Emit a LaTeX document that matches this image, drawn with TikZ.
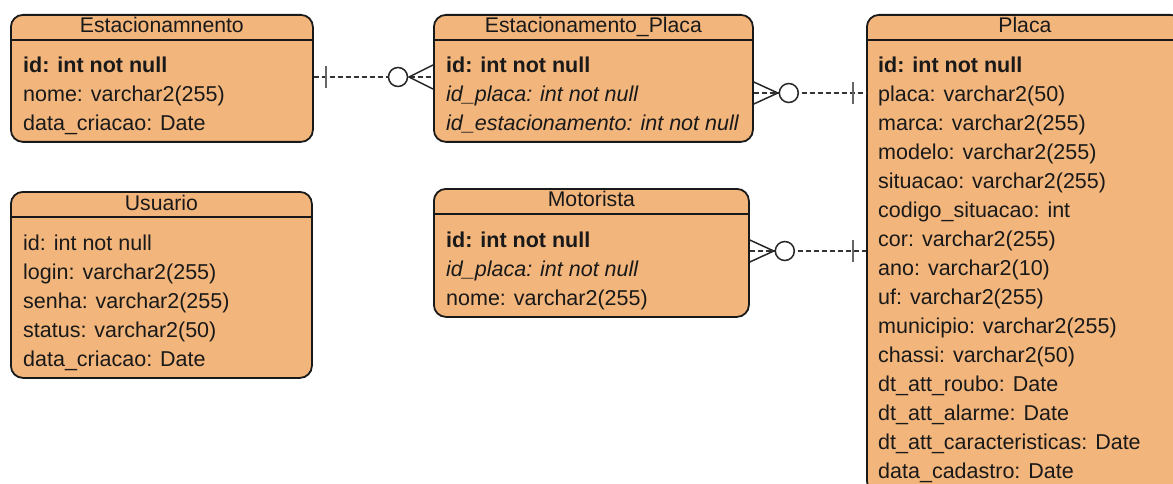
\documentclass[tikz,border=0pt]{standalone}
\usepackage{fontspec}
\setmainfont{Liberation Sans}
\definecolor{tabfill}{RGB}{242,181,124}
\begin{document}
\begin{tikzpicture}[x=1pt,y=-1pt,
  tabela/.style={draw=black!90,line width=1.8pt,fill=tabfill,rounded corners=12pt,inner sep=0pt,anchor=north west},
  titulo/.style={font=\fontsize{21.2}{24}\selectfont,anchor=base,inner sep=0pt,text=black!90},
  campos/.style={font=\fontsize{21.5}{29}\selectfont,align=left,anchor=north west,inner sep=0pt,text=black!90},
  divisa/.style={draw=black!90,line width=1.6pt},
  rel/.style={draw=black!80,line width=1.3pt,dash pattern=on 5pt off 3pt},
  pe/.style={draw=black!85,line width=1.5pt},
  um/.style={draw=black!60,line width=2.2pt},
  zero/.style={draw=black!85,line width=1.5pt,fill=white}]
  \clip (0,0) rectangle (1173,484);
  % tabelas
  \node[tabela,minimum width=302,minimum height=127] (est) at (10,14) {};
  \draw[divisa] (est.west |- 0,40) -- (est.east |- 0,40);
  \node[titulo] (est-t) at (est.north |- 0,33) {Estacionamnento};
  \node[campos] (est-c) at (23,56.6) {\textbf{id: int not null}\\nome: varchar2(255)\\data\_criacao: Date};

  \node[tabela,minimum width=319,minimum height=127] (ep) at (433,14) {};
  \draw[divisa] (ep.west |- 0,40) -- (ep.east |- 0,40);
  \node[titulo] (ep-t) at (ep.north |- 0,33) {Estacionamento\_Placa};
  \node[campos] (ep-c) at (446,56.6) {\textbf{id: int not null}\\\textit{id\_placa: int not null}\\\textit{id\_estacionamento: int not null}};

  \node[tabela,minimum width=301,minimum height=186] (usu) at (10,191) {};
  \draw[divisa] (usu.west |- 0,217) -- (usu.east |- 0,217);
  \node[titulo] (usu-t) at (usu.north |- 0,210) {Usuario};
  \node[campos] (usu-c) at (23,234.6) {id: int not null\\login: varchar2(255)\\senha: varchar2(255)\\status: varchar2(50)\\data\_criacao: Date};

  \node[tabela,minimum width=315,minimum height=128] (mot) at (433,188) {};
  \draw[divisa] (mot.west |- 0,214) -- (mot.east |- 0,214);
  \node[titulo] (mot-t) at (mot.north |- 0,207) {Motorista};
  \node[campos] (mot-c) at (446,231.6) {\textbf{id: int not null}\\\textit{id\_placa: int not null}\\nome: varchar2(255)};

  \node[tabela,minimum width=316,minimum height=478] (pla) at (866,14) {};
  \draw[divisa] (pla.west |- 0,40) -- (pla.east |- 0,40);
  \node[titulo] (pla-t) at (pla.north |- 0,33) {Placa};
  \node[campos] (pla-c) at (878,56.6) {\textbf{id: int not null}\\placa: varchar2(50)\\marca: varchar2(255)\\modelo: varchar2(255)\\situacao: varchar2(255)\\codigo\_situacao: int\\cor: varchar2(255)\\ano: varchar2(10)\\uf: varchar2(255)\\municipio: varchar2(255)\\chassi: varchar2(50)\\dt\_att\_roubo: Date\\dt\_att\_alarme: Date\\dt\_att\_caracteristicas: Date\\data\_cadastro: Date};

  % relacionamentos
  \coordinate (r1a) at (est.east |- 0,77);
  \coordinate (r1b) at (ep.west |- 0,77);
  \draw[rel] (r1a) -- (r1b);
  \draw[um] ([xshift=12pt]r1a) ++(0,-11) -- ++(0,22);
  \draw[pe] (r1b) ++(0,-12) -- ++(-24,12) -- ++(24,12);
  \draw[zero] ([xshift=-35pt]r1b) circle[radius=9.5];

  \coordinate (r2a) at (ep.east |- 0,93);
  \coordinate (r2b) at (pla.west |- 0,93);
  \draw[rel] (r2a) -- (r2b);
  \draw[um] ([xshift=-13pt]r2b) ++(0,-11) -- ++(0,22);
  \draw[pe] (r2a) ++(0,-11) -- ++(24,11) -- ++(-24,11);
  \draw[zero] ([xshift=35pt]r2a) circle[radius=9.5];

  \coordinate (r3a) at (mot.east |- 0,251);
  \coordinate (r3b) at (pla.west |- 0,251);
  \draw[rel] (r3a) -- (r3b);
  \draw[um] ([xshift=-13pt]r3b) ++(0,-11) -- ++(0,22);
  \draw[pe] (r3a) ++(0,-11) -- ++(24,11) -- ++(-24,11);
  \draw[zero] ([xshift=35pt]r3a) circle[radius=9.5];
\end{tikzpicture}
\end{document}
